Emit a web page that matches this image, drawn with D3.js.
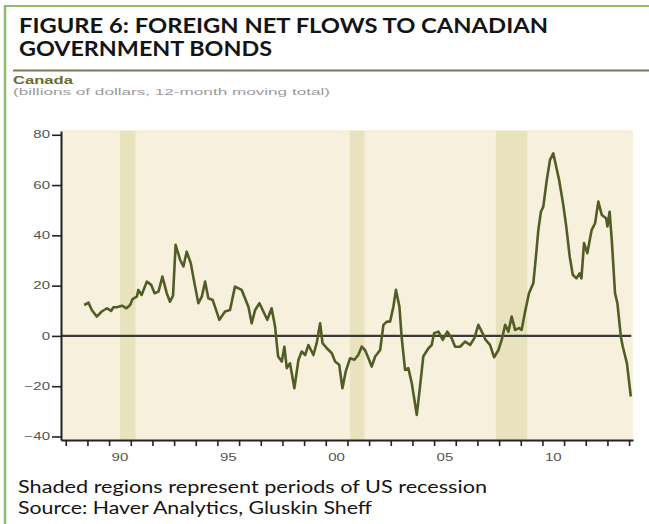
<!DOCTYPE html>
<html>
<head>
<meta charset="utf-8">
<script src="https://cdn.jsdelivr.net/npm/d3@7"></script>
<style>
  body { margin: 0; background: #fff; }
  svg { display: block; }
</style>
</head>
<body>
<svg id="chart" width="649" height="524"></svg>
<script>
// foreign net flows to Canadian government bonds, C$ bn, 12-month moving total
const years = [
  1988.85, 1989.05, 1989.2, 1989.43, 1989.66, 1989.9, 1990.1, 1990.2, 1990.35, 1990.6,
  1990.8, 1990.97, 1991.08, 1991.28, 1991.35, 1991.5, 1991.74, 1991.94, 1992.1, 1992.28,
  1992.46, 1992.66, 1992.81, 1992.95, 1993.07, 1993.28, 1993.43, 1993.58, 1993.77, 1993.97,
  1994.12, 1994.28, 1994.43, 1994.58, 1994.78, 1995.09, 1995.35, 1995.58, 1995.81, 1996.12,
  1996.43, 1996.58, 1996.74, 1996.94, 1997.12, 1997.3, 1997.5, 1997.66, 1997.8, 1997.97,
  1998.09, 1998.2, 1998.35, 1998.55, 1998.74, 1998.89, 1999.05, 1999.2, 1999.43, 1999.58,
  1999.74, 1999.85, 2000.05, 2000.28, 2000.43, 2000.62, 2000.77, 2000.92, 2001.12, 2001.32,
  2001.5, 2001.66, 2001.81, 2001.97, 2002.12, 2002.28, 2002.51, 2002.66, 2002.82, 2002.97,
  2003.12, 2003.24, 2003.4, 2003.5, 2003.66, 2003.81, 2003.97, 2004.2, 2004.35, 2004.5,
  2004.74, 2004.89, 2005.0, 2005.2, 2005.4, 2005.61, 2005.81, 2005.97, 2006.2, 2006.43,
  2006.66, 2006.86, 2007.04, 2007.2, 2007.38, 2007.58, 2007.77, 2007.97, 2008.12, 2008.28,
  2008.43, 2008.58, 2008.74, 2008.92, 2009.04, 2009.2, 2009.38, 2009.58, 2009.7, 2009.81,
  2009.93, 2010.04, 2010.2, 2010.35, 2010.5, 2010.6, 2010.77, 2010.95, 2011.1, 2011.26,
  2011.4, 2011.57, 2011.72, 2011.8, 2011.92, 2012.07, 2012.27, 2012.43, 2012.58, 2012.74,
  2012.94, 2013.0, 2013.1, 2013.2, 2013.35, 2013.46, 2013.62, 2013.71, 2013.9, 2014.08
];
const flows = [
  12.3, 13.2, 10.3, 7.7, 9.7, 11, 10, 11.4, 11.4, 12,
  11, 12.3, 14.6, 15.6, 18.3, 16.3, 21.6, 20.3, 17, 17.6,
  23.6, 17, 13.6, 16, 36.2, 30.2, 27.6, 33.5, 28.9, 19.6,
  13, 15.6, 21.6, 15, 14.3, 6.4, 9.7, 10.3, 19.6, 18.3,
  11.6, 5, 10.3, 13, 9.7, 6.4, 11, 3.7, -8.2, -10.2,
  -4.3, -12.8, -10.9, -20.8, -9.5, -6.2, -7.6, -3.6, -7.6, -2.9,
  5, -2.9, -4.9, -6.9, -10.2, -11.5, -20.8, -14.2, -8.9, -9.5,
  -7.6, -4.3, -5.6, -8.9, -12.2, -8.2, -5.6, 4.4, 5.7, 5.7,
  11.6, 18.3, 11.6, -0.3, -13.5, -12.8, -18.8, -31.4, -20.2, -8.2,
  -4.9, -3.6, 1.1, 1.7, -1.6, 1.7, -0.9, -4.3, -4.3, -2.3,
  -3.6, -0.9, 4.4, 1.7, -1.6, -3.6, -8.5, -5.6, -1.6, 4.4,
  1.7, 7.7, 2.4, 3.1, 2.4, 9.7, 17, 21, 31.5, 42.1,
  49.4, 51.4, 62, 70, 72.6, 68.7, 62, 52.8, 43.5, 31.5,
  24.3, 22.9, 24.9, 22.9, 36.9, 32.9, 42.1, 44.8, 53.4, 48.1,
  46.8, 43.5, 49.4, 38.2, 17, 13, -0.3, -4.3, -10.9, -24.1
];

// US recessions (shaded)
const recessionStart = [1990.5, 2001.12, 2007.85];
const recessionEnd = [1991.22, 2001.78, 2009.3];

const yTicks = [-40, -20, 0, 20, 40, 60, 80];
const xTickYears = d3.range(1988, 2015);
const xLabelYears = [1990, 1995, 2000, 2005, 2010];
const xLabels = ['90', '95', '00', '05', '10'];

const svg = d3.select('#chart');

// stretch text to a given width (source picture is widened)
function fitWidth(sel, w) {
  sel.attr('textLength', w).attr('lengthAdjust', 'spacingAndGlyphs');
}
function stretch(sel, k) {
  sel.each(function () {
    const n = this.getComputedTextLength();
    d3.select(this).attr('textLength', n * k).attr('lengthAdjust', 'spacingAndGlyphs');
  });
}

// frame
svg.append('line').attr('x1', 4).attr('x2', 649).attr('y1', 6).attr('y2', 6)
  .attr('stroke', '#8fbd6c').attr('stroke-width', 2);
svg.append('line').attr('x1', 5).attr('x2', 5).attr('y1', 5).attr('y2', 524)
  .attr('stroke', '#8fbd6c').attr('stroke-width', 2.5);

// title
const titleFont = 'Lato, "Open Sans", sans-serif';
svg.append('text').attr('x', 19).attr('y', 33)
  .attr('font-family', titleFont).attr('font-weight', 'bold').attr('font-size', 20.5)
  .attr('fill', '#141414').text('FIGURE 6: FOREIGN NET FLOWS TO CANADIAN')
  .call(fitWidth, 529);
svg.append('text').attr('x', 19).attr('y', 56)
  .attr('font-family', titleFont).attr('font-weight', 'bold').attr('font-size', 20.5)
  .attr('fill', '#141414').text('GOVERNMENT BONDS')
  .call(fitWidth, 253);

svg.append('line').attr('x1', 13).attr('x2', 649).attr('y1', 70.5).attr('y2', 70.5)
  .attr('stroke', '#7b7a55').attr('stroke-width', 2);

svg.append('text').attr('x', 13).attr('y', 84)
  .attr('font-family', '"Liberation Sans", Arial, sans-serif').attr('font-weight', 'bold')
  .attr('font-size', 10.5).attr('fill', '#6b6b30').text('Canada')
  .call(fitWidth, 60);
svg.append('text').attr('x', 13).attr('y', 95)
  .attr('font-family', '"Liberation Sans", Arial, sans-serif')
  .attr('font-size', 9.5).attr('fill', '#9a9a9a').text('(billions of dollars, 12-month moving total)')
  .call(fitWidth, 317);

// scales
const x = d3.scaleLinear().domain([1987.78, 2014.18]).range([61, 633]);
const y = d3.scaleLinear().domain([-41.4, 81.5]).range([440, 131]);

// plot background
svg.append('rect').attr('x', x(1987.78)).attr('y', 130)
  .attr('width', x(2014.18) - x(1987.78)).attr('height', 310)
  .attr('fill', '#f7f0dc');

// recession bands
svg.append('g').selectAll('rect')
  .data(recessionStart)
  .join('rect')
  .attr('x', (d) => x(d))
  .attr('width', (d, i) => x(recessionEnd[i]) - x(d))
  .attr('y', y(81.5))
  .attr('height', y(-41.4) - y(81.5))
  .attr('fill', '#e8e2bd');

// zero line
svg.append('line')
  .attr('x1', x(1987.78)).attr('x2', x(2014.1))
  .attr('y1', y(0)).attr('y2', y(0))
  .attr('stroke', '#3a3a36').attr('stroke-width', 2.2);

// series
const line = d3.line()
  .x((d, i) => x(years[i]))
  .y((d) => y(d))
  .curve(d3.curveLinear);

svg.append('path')
  .datum(flows)
  .attr('d', line)
  .attr('fill', 'none')
  .attr('stroke', '#525d25')
  .attr('stroke-width', 2.6)
  .attr('stroke-linejoin', 'round');

// axes
const tickFont = '"Liberation Sans", Arial, sans-serif';

const yAxis = svg.append('g')
  .attr('transform', `translate(${x(1987.78)},0)`)
  .call(d3.axisLeft(y).tickValues(yTicks).tickSize(9).tickSizeOuter(0).tickPadding(2));

const xAxis = svg.append('g')
  .attr('transform', `translate(0,${y(-41.4)})`)
  .call(d3.axisBottom(x).tickValues(xTickYears).tickSize(6).tickSizeOuter(0).tickFormat(''));

[yAxis, xAxis].forEach((g) => {
  g.select('.domain').attr('stroke', '#222').attr('stroke-width', 2);
  g.selectAll('.tick line').attr('stroke', '#222').attr('stroke-width', 1.6);
});

yAxis.selectAll('.tick text')
  .attr('font-family', tickFont).attr('font-size', 10).attr('fill', '#555')
  .call(stretch, 1.5);

svg.append('g').selectAll('text')
  .data(xLabelYears)
  .join('text')
  .attr('x', (d) => x(d + 0.5))
  .attr('y', 461)
  .attr('text-anchor', 'middle')
  .attr('font-family', tickFont).attr('font-size', 10).attr('fill', '#555')
  .text((d, i) => xLabels[i])
  .call(stretch, 1.5);

// footnotes
const noteFont = 'Lato, "Open Sans", sans-serif';
svg.append('text').attr('x', 18).attr('y', 493)
  .attr('font-family', noteFont).attr('font-size', 18).attr('fill', '#141414')
  .text('Shaded regions represent periods of US recession')
  .call(fitWidth, 469);
svg.append('text').attr('x', 18).attr('y', 514)
  .attr('font-family', noteFont).attr('font-size', 18).attr('fill', '#141414')
  .text('Source: Haver Analytics, Gluskin Sheff')
  .call(fitWidth, 354);
</script>
</body>
</html>
